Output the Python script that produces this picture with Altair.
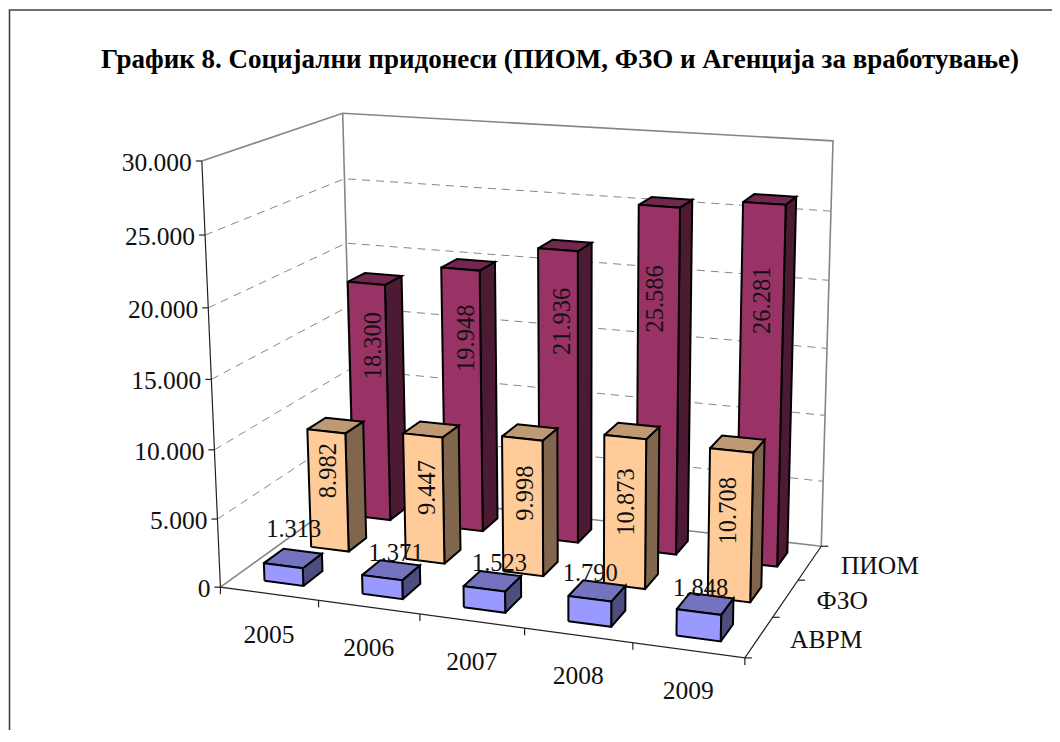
import numpy as np
import pandas as pd
import altair as alt

TITLE = "График 8. Социјални придонеси (ПИОМ, ФЗО и Агенција за вработување)"
years = ["2005", "2006", "2007", "2008", "2009"]
rows = ["АВРМ", "ФЗО", "ПИОМ"]
avrm = [1313, 1371, 1523, 1790, 1848]
fzo = [8982, 9447, 9998, 10873, 10708]
piom = [18300, 19948, 21936, 25586, 26281]
ticks = [0, 5000, 10000, 15000, 20000, 25000, 30000]
fronts = ["#9999FF", "#FFCC99", "#993366"]
sides = ["#4D4D80", "#80664D", "#4D1A33"]
tops = ["#7373BF", "#BF9973", "#732650"]
values = [avrm, fzo, piom]
YMAX = 30000.0
FONT = "Liberation Serif"

# wall corners on screen -> projective camera
cube = [(0,0,0),(1,0,0),(1,1,0),(0,1,0),(0,0,1),(1,1,1),(0,1,1)]
screen = [(221.5,588),(744,658),(822,546),(352,491),(201.5,160),(833,141),(343,114)]
A, b = [], []
for (u,v,w),(sx,sy) in zip(cube, screen):
    A.append([u,v,w,1,0,0,0,0,-sx*u,-sx*v,-sx*w]); b.append(sx)
    A.append([0,0,0,0,u,v,w,1,-sy*u,-sy*v,-sy*w]); b.append(sy)
P = np.linalg.lstsq(np.array(A,float), np.array(b,float), rcond=None)[0]
def proj(u, v, w):
    d = P[8]*u+P[9]*v+P[10]*w+1
    return (float((P[0]*u+P[1]*v+P[2]*w+P[3])/d), float((P[4]*u+P[5]*v+P[6]*w+P[7])/d))

def add_poly(store, pid, pts, fill=None):
    for k, (x, y) in enumerate(pts):
        rec = dict(pid=pid, k=k, x=x, y=y)
        if fill: rec["fill"] = fill
        store.append(rec)

X = alt.X("x:Q", scale=alt.Scale(domain=[8,1052], nice=False, zero=False), axis=None)
Y = alt.Y("y:Q", scale=alt.Scale(domain=[8,730], nice=False, zero=False, reverse=True), axis=None)

def lines(store, color, width, dash=None):
    kw = dict(stroke=color, strokeWidth=width, clip=True)
    if dash: kw["strokeDash"] = dash
    return alt.Chart(pd.DataFrame(store)).mark_line(**kw).encode(X, Y, detail="pid:N", order="k:Q")

# frame
frame = []
add_poly(frame, "a", [(9.5,742),(9.5,10),(1060,10)])

# walls
grey = []
c = [proj(*p) for p in [(0,0,1),(0,1,1),(1,1,1),(1,1,0),(0,1,0),(0,0,0)]]
add_poly(grey, "w", c[:4])
add_poly(grey, "x", [c[1], c[4]])
add_poly(grey, "y", [c[5], c[4], c[3]])

grid = []
for t in ticks[1:-1]:
    w = t/YMAX
    add_poly(grid, f"g{t}", [proj(0,0,w), proj(0,1,w), proj(1,1,w)])

# axes in black
axes = []
add_poly(axes, "l", [proj(0,0,1), proj(0,0,0), proj(1,0,0), proj(1,1,0)])
for t in ticks:
    p = proj(0,0,t/YMAX)
    add_poly(axes, f"t{t}", [(p[0]-6,p[1]), p])
for i in range(6):
    p = proj(i/5,0,0)
    add_poly(axes, f"u{i}", [p, (p[0],p[1]+7)])
for s in range(4):
    p = proj(1,s/3,0)
    add_poly(axes, f"v{s}", [p, (p[0]+7,p[1])])

# bars and their hand-placed value labels
HW = 0.04
HD = 0.07
label_height = {1: [.67, .59, .60, .57, .60], 2: [.74, .74, .76, .74, .74]}
label_dx = {0: [-9, -4, -1, -14, -11], 1: [-1, 1, 0, -1, -4], 2: [3, 3, 2, -5, -2]}
label_dy = [-21, -9, -10, -9, -7]
polys = []
inner = []
for s in [2, 1, 0]:
    for i in range(5):
        shift = 0.002 + 0.002*s
        u0, u1 = (i+.5)/5-HW+shift, (i+.5)/5+HW+shift
        v0, v1 = (s+.5)/3-HD, (s+.5)/3+HD
        w = values[s][i]/YMAX
        pid = f"{2-s}{i}"
        add_poly(polys, pid+"a", [proj(u1,v0,0),proj(u1,v1,0),proj(u1,v1,w),proj(u1,v0,w),proj(u1,v0,0)], sides[s])
        add_poly(polys, pid+"b", [proj(u0,v0,w),proj(u1,v0,w),proj(u1,v1,w),proj(u0,v1,w),proj(u0,v0,w)], tops[s])
        add_poly(polys, pid+"c", [proj(u0,v0,0),proj(u1,v0,0),proj(u1,v0,w),proj(u0,v0,w),proj(u0,v0,0)], fronts[s])
        txt = f"{values[s][i]:,}".replace(",", ".")
        mid = (u0+u1)/2
        if s == 0:
            p = proj(mid, v1, w)
            inner.append(dict(x=p[0]+label_dx[s][i], y=p[1]+label_dy[i], t=txt, a=0))
        else:
            p = proj(mid, v0, w*label_height[s][i])
            inner.append(dict(x=p[0]+label_dx[s][i]+3, y=p[1], t=txt, a=270))

df = pd.DataFrame(polys)
bars = alt.Chart(df).mark_line(stroke="black", strokeWidth=2, strokeJoin="miter").encode(
    X, Y, detail="pid:N", order="k:Q", fill=alt.Fill("fill:N", scale=None))

def texts(recs, size=25.5, **kw):
    return alt.Chart(pd.DataFrame(recs)).mark_text(font=FONT, fontSize=size, color="#111111", baseline="middle", **kw).encode(X, Y, text="t:N")

ylabels = []
for t in ticks:
    p = proj(0,0,t/YMAX)
    ylabels.append(dict(x=p[0]-10, y=p[1]+2, t=f"{t:,}".replace(",", ".")))
xlabels = []
for i, yr in enumerate(years):
    p = proj((i+.5)/5,0,0)
    xlabels.append(dict(x=p[0], y=p[1]+41, t=yr))
slabels = []
for s, name in enumerate(rows):
    p = proj(1,(s+.5)/3,0)
    slabels.append(dict(x=p[0]+31, y=p[1]+3, t=name))

in_h = [r for r in inner if r["a"] == 0]
in_v = [r for r in inner if r["a"] != 0]

title = alt.Chart(pd.DataFrame([dict(x=560, y=60, t=TITLE)])).mark_text(
    font=FONT, fontSize=27, fontWeight="bold", color="black", baseline="middle", align="center").encode(X, Y, text="t:N")

chart = alt.layer(
    lines(frame, "#404040", 1.6),
    title,
    lines(grey, "#868686", 1.6),
    lines(grid, "#868686", 1, [8, 6]),
    lines(axes, "#222222", 1.2),
    bars,
    texts(ylabels, align="right"),
    texts(xlabels, align="center"),
    texts(slabels, align="left"),
    texts(in_v, size=24.5, align="center", angle=270),
    texts(in_h, size=24.5, align="center"),
).properties(width=1044, height=722, padding=0, background="white",
             autosize=alt.AutoSizeParams(type="none")).configure_view(stroke=None)

chart.save("out.html", embed_options={"renderer": "svg", "actions": False})
